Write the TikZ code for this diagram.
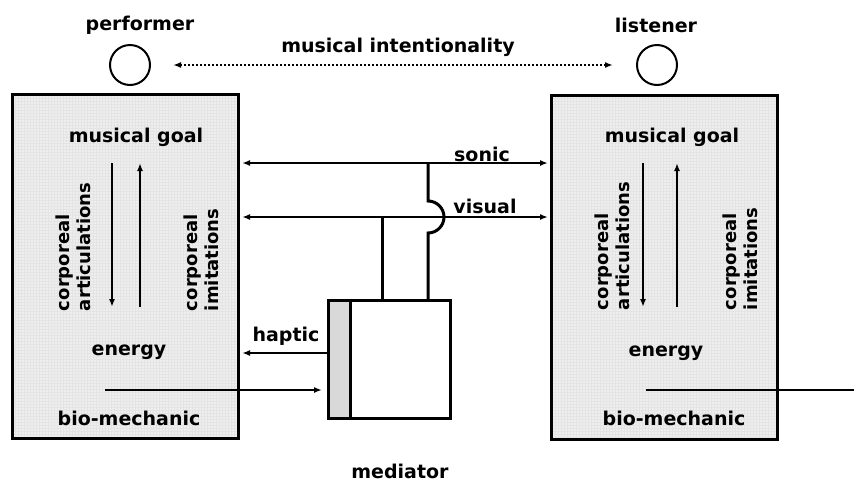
\documentclass[tikz,border=0pt]{standalone}
\usepackage{fontspec}
\setmainfont{DejaVu Sans}
\usetikzlibrary{arrows.meta,patterns}
\definecolor{boxgray}{RGB}{238,238,238}
\definecolor{gridgray}{RGB}{228,228,228}
\definecolor{gripgray}{RGB}{217,217,217}

\begin{document}
\begin{tikzpicture}[x=1pt, y=-1pt, line width=2pt,
    font=\fontsize{19}{22}\selectfont\bfseries,
    box/.style = {draw, line width=3pt, preaction={fill=boxgray}, preaction={pattern=grid, pattern color=gridgray},
        minimum width=226pt, minimum height=344pt, inner sep=0pt},
    head/.style = {draw, circle, line width=2pt, minimum size=40pt, inner sep=0pt},
    part/.style = {draw, line width=3pt, minimum height=118pt, inner sep=0pt},
    vtext/.style = {rotate=90, anchor=west, align=left, inner sep=0pt, font=\fontsize{18}{21}\selectfont\bfseries},
    tip/.style = {-{Latex[length=8pt,width=6pt]}},
    both/.style = {{Latex[length=8pt,width=6pt]}-{Latex[length=8pt,width=6pt]}}]
    \useasboundingbox (0,0) rectangle (854,488);

    % actors
    \node[head] (perf) at (130,65) {};
    \node[head] (lis) at (657,65) {};
    \node (perfname) at (140,25) {performer};
    \node (lisname) at (656,25) {listener};
    \node (intent) at (398,47) {musical intentionality};
    \draw[both, dash pattern=on 2pt off 2pt, shorten <=22pt, shorten >=23pt] (perf) -- (lis);

    % performer and listener
    \node[box] (lbox) at (125.5,266.5) {};
    \node[box] (rbox) at (664.5,267.5) {};
    \node (lgoal) at (136,137) {musical goal};
    \node (lenergy) at (129,352) {energy};
    \node (lbio) at (129,418) {bio-mechanic};
    \node (rgoal) at (672,137) {musical goal};
    \node (renergy) at (666,353) {energy};
    \node (rbio) at (674,418) {bio-mechanic};
    \node[vtext] (lart) at (73,312) {corporeal\\articulations};
    \node[vtext] (limit) at (201,312) {corporeal\\imitations};
    \node[vtext] (rart) at (612,311) {corporeal\\articulations};
    \node[vtext] (rimit) at (740,311) {corporeal\\imitations};

    \coordinate (ldtop) at (112,163);
    \coordinate (ldbot) at (112,307);
    \coordinate (lutop) at (140,163);
    \coordinate (lubot) at (140,307);
    \coordinate (rdtop) at (643,163);
    \coordinate (rdbot) at (643,307);
    \coordinate (rutop) at (677,163);
    \coordinate (rubot) at (677,307);
    \draw[tip] (ldtop) -- (ldbot);
    \draw[tip] (lubot) -- (lutop);
    \draw[tip] (rdtop) -- (rdbot);
    \draw[tip] (rubot) -- (rutop);

    % mediator
    \node[part, fill=gripgray, minimum width=22pt] (grip) at (339.5,359.5) {};
    \node[part, minimum width=100pt] (med) at (400.5,359.5) {};
    \node (medname) at (400,471) {mediator};

    % channels
    \coordinate (sonicjoin) at (428,163);
    \coordinate (visjoin) at (382,217);
    \draw[both, shorten <=2pt, shorten >=2pt] (lbox.east |- sonicjoin) -- (rbox.west |- sonicjoin);
    \draw[both, shorten <=2pt, shorten >=2pt] (lbox.east |- visjoin) -- (rbox.west |- visjoin);
    \node (sonic) at (482,154) {sonic};
    \node (visual) at (485,206) {visual};
    \draw[line width=3pt] (med.north -| sonicjoin) -- ++(0,-66)
        arc[start angle=-90, end angle=90, radius=16pt] -- (sonicjoin);
    \draw[line width=3pt] (med.north -| visjoin) -- (visjoin);

    \coordinate (hapy) at (0,353);
    \draw[tip, shorten >=2pt] (grip.west |- hapy) -- (lbox.east |- hapy);
    \node (haptic) at (286,336) {haptic};

    \coordinate (lstart) at (105,390);
    \coordinate (rstart) at (646,390);
    \coordinate (rend) at (854,390);
    \draw[tip, shorten >=5pt] (lstart) -- (grip.west |- lstart);
    \draw (rstart) -- (rend);
\end{tikzpicture}
\end{document}
